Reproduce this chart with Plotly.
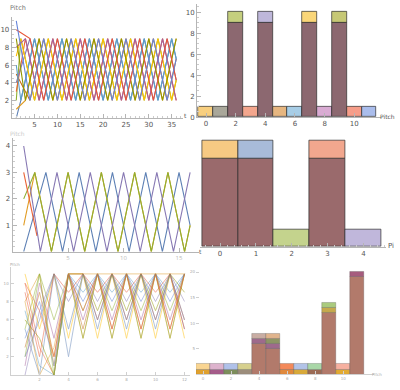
import plotly.graph_objects as go

W, H = 400, 390
PAL = ['#5E81B5', '#E19C24', '#8FB032', '#EB6235', '#8778B3', '#C56E1A',
       '#5D9EC7', '#FFBF00', '#A5609D', '#929600', '#E95536', '#6685D9']

# ---------------- panel 1: 12 voices, pitch vs t ----------------
p1_x = [
    [1, 2, 5, 8, 11, 14, 17, 20, 23, 26, 29, 32, 35, 36],
    [1, 3, 6, 9, 12, 15, 18, 21, 24, 27, 30, 33, 36],
    [1, 2, 5, 8, 11, 14, 17, 20, 23, 26, 29, 32, 35, 36],
    [1, 3, 6, 9, 12, 15, 18, 21, 24, 27, 30, 33, 36],
    [1, 4, 7, 10, 13, 16, 19, 22, 25, 28, 31, 34, 36],
    [1, 4, 7, 10, 13, 16, 19, 22, 25, 28, 31, 34, 36],
    [1, 2, 5, 8, 11, 14, 17, 20, 23, 26, 29, 32, 35, 36],
    [1, 2, 5, 8, 11, 14, 17, 20, 23, 26, 29, 32, 35, 36],
    [1, 3, 6, 9, 12, 15, 18, 21, 24, 27, 30, 33, 36],
    [1, 3, 6, 9, 12, 15, 18, 21, 24, 27, 30, 33, 36],
    [1, 4, 7, 10, 13, 16, 19, 22, 25, 28, 31, 34, 36],
    [1, 4, 7, 10, 13, 16, 19, 22, 25, 28, 31, 34, 36],
]
p1_y = [
    [0, 2, 9, 2, 9, 2, 9, 2, 9, 2, 9, 2, 9, 6.7],
    [1, 2, 9, 2, 9, 2, 9, 2, 9, 2, 9, 2, 9],
    [2, 9, 2, 9, 2, 9, 2, 9, 2, 9, 2, 9, 2, 4.3],
    [3, 9, 2, 9, 2, 9, 2, 9, 2, 9, 2, 9, 2],
    [4, 9, 2, 9, 2, 9, 2, 9, 2, 9, 2, 9, 4.3],
    [5, 2, 9, 2, 9, 2, 9, 2, 9, 2, 9, 2, 6.7],
    [6, 2, 9, 2, 9, 2, 9, 2, 9, 2, 9, 2, 9, 6.7],
    [7, 9, 2, 9, 2, 9, 2, 9, 2, 9, 2, 9, 2, 4.3],
    [8, 9, 2, 9, 2, 9, 2, 9, 2, 9, 2, 9, 2],
    [9, 2, 9, 2, 9, 2, 9, 2, 9, 2, 9, 2, 9],
    [10, 9, 2, 9, 2, 9, 2, 9, 2, 9, 2, 9, 4.3],
    [11, 2, 9, 2, 9, 2, 9, 2, 9, 2, 9, 2, 6.7],
]

# ---------------- panel 2: stacked histogram of pitch (0..11) ----------------
p2_bins = list(range(12))
p2_low = [1, 1, 0, 1, 0, 1, 1, 0, 1, 0, 1, 1]
p2_low_col = ['#F8CF7F', '#A9A79A', '#8C6870', '#F3A68D', '#8C6870', '#E6B680',
              '#A7CDE6', '#8C6870', '#D9ABD3', '#8C6870', '#F69D89', '#AABDEC']
p2_dark = [0, 0, 9, 0, 9, 0, 0, 9, 0, 9, 0, 0]
p2_top = [0, 0, 1, 0, 1, 0, 0, 1, 0, 1, 0, 0]
p2_top_col = ['#ffffff', '#ffffff', '#C5CF7E', '#ffffff', '#BEB7DA', '#ffffff',
              '#ffffff', '#FAD678', '#ffffff', '#C6C875', '#ffffff', '#ffffff']

# ---------------- panel 3: 5 voices ----------------
p3_x = [
    [1, 3, 4.5, 6, 7.5, 9, 10.5, 12, 13.5, 15, 16],
    [1, 2, 3.5, 5, 6.5, 8, 9.5, 11, 12.5, 14, 15.5, 16],
    [1, 2, 3.5, 5, 6.5, 8, 9.5, 11, 12.5, 14, 15.5, 16],
    [1, 2.2],
    [1, 2.5, 4, 5.5, 7, 8.5, 10, 11.5, 13, 14.5, 16],
]
p3_y = [
    [0, 3, 0, 3, 0, 3, 0, 3, 0, 3, 1],
    [1, 3, 0, 3, 0, 3, 0, 3, 0, 3, 0, 1],
    [2, 3, 0, 3, 0, 3, 0, 3, 0, 3, 0, 1],
    [3, 0.6],
    [4, 0, 3, 0, 3, 0, 3, 0, 3, 0, 3],
]
p3_col = ['#5E81B5', '#E19C24', '#8FB032', '#EB6235', '#8778B3']

# ---------------- panel 4: histogram of pitch (0..4) ----------------
p4_bins = [0, 1, 2, 3, 4]
p4_dark = [5, 5, 0, 5, 0]
p4_top = [1, 1, 1, 1, 1]
p4_top_col = ['#F7CA83', '#A8BBD9', '#C4D38D', '#F2A78E', '#C0B7DB']

# ---------------- panel 5: many voices ----------------
p5_t = list(range(1, 13))
p5_y = [
    [5, 0, 11, 2, 11, 5, 11, 5, 11, 5, 11, 5],
    [8, 11, 1, 11, 4, 11, 4, 11, 4, 11, 4, 11],
    [2, 11, 6, 11, 7, 11, 7, 11, 7, 11, 7, 11],
    [10, 3, 0, 11, 11, 6, 11, 6, 11, 6, 11, 6],
    [0, 7, 11, 8, 11, 8, 11, 8, 11, 8, 11, 8],
    [3, 9, 2, 11, 5, 11, 5, 11, 5, 11, 5, 11],
    [7, 1, 0, 11, 9, 11, 9, 11, 9, 11, 9, 11],
    [11, 5, 11, 4, 11, 4, 11, 4, 11, 4, 11, 4],
    [1, 10, 4, 11, 6, 11, 6, 11, 6, 11, 6, 11],
    [6, 4, 0, 11, 11, 7, 11, 7, 11, 7, 11, 9],
    [9, 2, 11, 9, 11, 9, 11, 9, 11, 9, 11, 5],
    [4, 8, 1, 11, 8, 11, 8, 11, 8, 11, 8, 11],
    [2, 6, 11, 5, 11, 6, 11, 6, 11, 6, 11, 6],
    [8, 0, 3, 11, 11, 11, 11, 11, 11, 11, 11, 11],
    [5, 11, 0, 11, 4, 11, 4, 11, 4, 11, 4, 11],
    [10, 7, 2, 11, 7, 11, 5, 11, 5, 11, 5, 11],
]

# ---------------- panel 6: stacked histogram (0..11) ----------------
p6_bins = list(range(12))
p6_dark = [0, 0, 0, 0, 6, 5, 0, 0, 0, 12, 0, 19]
p6_layers = [
    [('#E0A12E', 1), ('#F9D592', 1)],
    [('#A55C8A', 1), ('#DDB3CD', 1)],
    [('#7D8E5C', 1), ('#B0C1E9', 1)],
    [('#9C8D7B', 1), ('#D6D08E', 1)],
    [('#9E6A8C', 1), ('#C9ADA3', 1)],
    [('#9E6A8C', 1), ('#8E9565', 1), ('#E0B48D', 1)],
    [('#E0893D', 1), ('#F3895A', 1)],
    [('#D8A93A', 1), ('#B2C3E7', 1)],
    [('#9B6B55', 1), ('#A9D7A8', 1)],
    [('#C6AA4D', 1), ('#AACB7E', 1)],
    [('#E2AA32', 1), ('#F6B0A0', 1)],
    [('#A65C7E', 1)],
]

fig = go.Figure()

for i in range(12):
    fig.add_trace(go.Scatter(x=p1_x[i], y=p1_y[i], mode='lines',
                             line=dict(color=PAL[i], width=1.1),
                             xaxis='x', yaxis='y', showlegend=False))

EDGE = dict(color='rgba(40,40,40,0.85)', width=0.8)
# panel 2 bars
for b in p2_bins:
    if p2_low[b]:
        fig.add_trace(go.Bar(x=[b], y=[p2_low[b]], base=[0], width=1,
                             marker=dict(color=p2_low_col[b], line=EDGE),
                             xaxis='x2', yaxis='y2', showlegend=False))
    if p2_dark[b]:
        fig.add_trace(go.Bar(x=[b], y=[p2_dark[b]], base=[0], width=1,
                             marker=dict(color='#8C6870', line=EDGE),
                             xaxis='x2', yaxis='y2', showlegend=False))
        fig.add_trace(go.Bar(x=[b], y=[p2_top[b]], base=[p2_dark[b]], width=1,
                             marker=dict(color=p2_top_col[b], line=EDGE),
                             xaxis='x2', yaxis='y2', showlegend=False))

for i in range(5):
    fig.add_trace(go.Scatter(x=p3_x[i], y=p3_y[i], mode='lines',
                             line=dict(color=p3_col[i], width=1.1),
                             xaxis='x3', yaxis='y3', showlegend=False))

for b in p4_bins:
    if p4_dark[b]:
        fig.add_trace(go.Bar(x=[b], y=[p4_dark[b]], base=[0], width=1,
                             marker=dict(color='#9A6A6C', line=EDGE),
                             xaxis='x4', yaxis='y4', showlegend=False))
    fig.add_trace(go.Bar(x=[b], y=[p4_top[b]], base=[p4_dark[b]], width=1,
                         marker=dict(color=p4_top_col[b], line=EDGE),
                         xaxis='x4', yaxis='y4', showlegend=False))

for i, ys in enumerate(p5_y):
    fig.add_trace(go.Scatter(x=p5_t, y=ys, mode='lines', opacity=0.6,
                             line=dict(color=PAL[i % 12], width=0.8),
                             xaxis='x5', yaxis='y5', showlegend=False))

EDGE6 = dict(color='rgba(60,60,60,0.5)', width=0.5)
for b in p6_bins:
    base = 0
    if p6_dark[b]:
        fig.add_trace(go.Bar(x=[b], y=[p6_dark[b]], base=[0], width=1,
                             marker=dict(color='#B27A6B', line=EDGE6),
                             xaxis='x6', yaxis='y6', showlegend=False))
        base = p6_dark[b]
    for col, h in p6_layers[b]:
        fig.add_trace(go.Bar(x=[b], y=[h], base=[base], width=1,
                             marker=dict(color=col, line=EDGE6),
                             xaxis='x6', yaxis='y6', showlegend=False))
        base += h


def px_x(a, b):
    return [a / W, b / W]


def px_y(top, bottom):
    return [1 - bottom / H, 1 - top / H]


AX = dict(showline=True, linecolor='#b5b5b5', linewidth=1, zeroline=False,
          showgrid=False, ticks='inside', ticklen=4, tickcolor='#b5b5b5',
          tickfont=dict(size=7, color='#555', family='DejaVu Sans'))
FAINT = dict(showline=True, linecolor='#d0d0d0', linewidth=1, zeroline=False,
             showgrid=False, ticks='inside', ticklen=3, tickcolor='#d0d0d0',
             tickfont=dict(size=4, color='#aaa', family='DejaVu Sans'))

fig.update_layout(
    width=W, height=H, margin=dict(l=0, r=0, t=0, b=0),
    paper_bgcolor='white', plot_bgcolor='white', barmode='overlay',
    bargap=0, showlegend=False,
    xaxis=dict(AX, domain=px_x(11.7, 183.1), range=[0, 37.5], anchor='y',
               tickvals=[5, 10, 15, 20, 25, 30, 35], minor=dict(ticks='inside', ticklen=2, dtick=1, tickcolor='#ccc')),
    yaxis=dict(AX, domain=px_y(17.5, 119.3), range=[0, 11.4], anchor='x',
               tickvals=[2, 4, 6, 8, 10], minor=dict(ticks='inside', ticklen=2, dtick=0.5, tickcolor='#ccc')),
    xaxis2=dict(AX, domain=px_x(197.1, 381), range=[-0.6, 11.8], anchor='y2',
                tickvals=[0, 2, 4, 6, 8, 10]),
    yaxis2=dict(AX, domain=px_y(3.8, 118.3), range=[0, 10.8], anchor='x2',
                tickvals=[0, 2, 4, 6, 8, 10], minor=dict(ticks='inside', ticklen=2, dtick=0.5, tickcolor='#ccc')),
    xaxis3=dict(AX, domain=px_x(12.6, 199), range=[0, 16.8], anchor='y3',
                tickvals=[5, 10, 15], tickfont=dict(size=6, color='#bbb')),
    yaxis3=dict(AX, domain=px_y(139.5, 254.3), range=[0, 4.3], anchor='x3',
                tickvals=[1, 2, 3, 4], minor=dict(ticks='inside', ticklen=2, dtick=0.2, tickcolor='#ccc')),
    xaxis4=dict(AX, domain=px_x(200.3, 386), range=[-0.55, 4.63], anchor='y4',
                tickvals=[0, 1, 2, 3, 4], minor=dict(ticks='inside', ticklen=2, dtick=0.2, tickcolor='#ccc')),
    yaxis4=dict(domain=px_y(137, 249.3), range=[0, 6.3], anchor='x4', visible=False),
    xaxis5=dict(FAINT, domain=px_x(10.5, 190.3), range=[0, 12.4], anchor='y5',
                tickvals=[2, 4, 6, 8, 10, 12]),
    yaxis5=dict(FAINT, domain=px_y(269.3, 379), range=[0, 11.8], anchor='x5',
                tickvals=[2, 4, 6, 8, 10]),
    xaxis6=dict(FAINT, domain=px_x(196, 374.2), range=[-0.5, 12.2], anchor='y6',
                tickvals=[0, 2, 4, 6, 8, 10]),
    yaxis6=dict(FAINT, domain=px_y(260.4, 378.3), range=[0, 22.8], anchor='x6',
                tickvals=[5, 10, 15, 20], showline=False),
)


def lab(text, x, y, size=7, color='#555', xanchor='left'):
    fig.add_annotation(text=text, x=x / W, y=1 - y / H, xref='paper', yref='paper',
                       showarrow=False, xanchor=xanchor, yanchor='middle',
                       font=dict(size=size, color=color, family='DejaVu Sans'))


lab('Pitch', 8, 8, size=6.5, color='#777')
lab('t', 182, 117, size=6)
lab('Pitch', 397, 118, size=6, xanchor='right')
lab('Pitch', 8, 135, size=6, color='#ccc')
lab('t', 197, 254, size=6)
lab('Pi', 396, 249, size=7, xanchor='right')
lab('Pitch', 8, 267, size=4, color='#aaa')
lab('Pitch', 370, 378, size=4, color='#aaa')

fig.write_html('out.html', config={'displayModeBar': False})

# remove the browser's default 8px page margin so the figure sits at (0, 0)
with open('out.html', encoding='utf-8') as fh:
    page = fh.read()
page = page.replace('<head>', '<head><style>html,body{margin:0;padding:0;overflow:hidden}</style>', 1)
with open('out.html', 'w', encoding='utf-8') as fh:
    fh.write(page)
